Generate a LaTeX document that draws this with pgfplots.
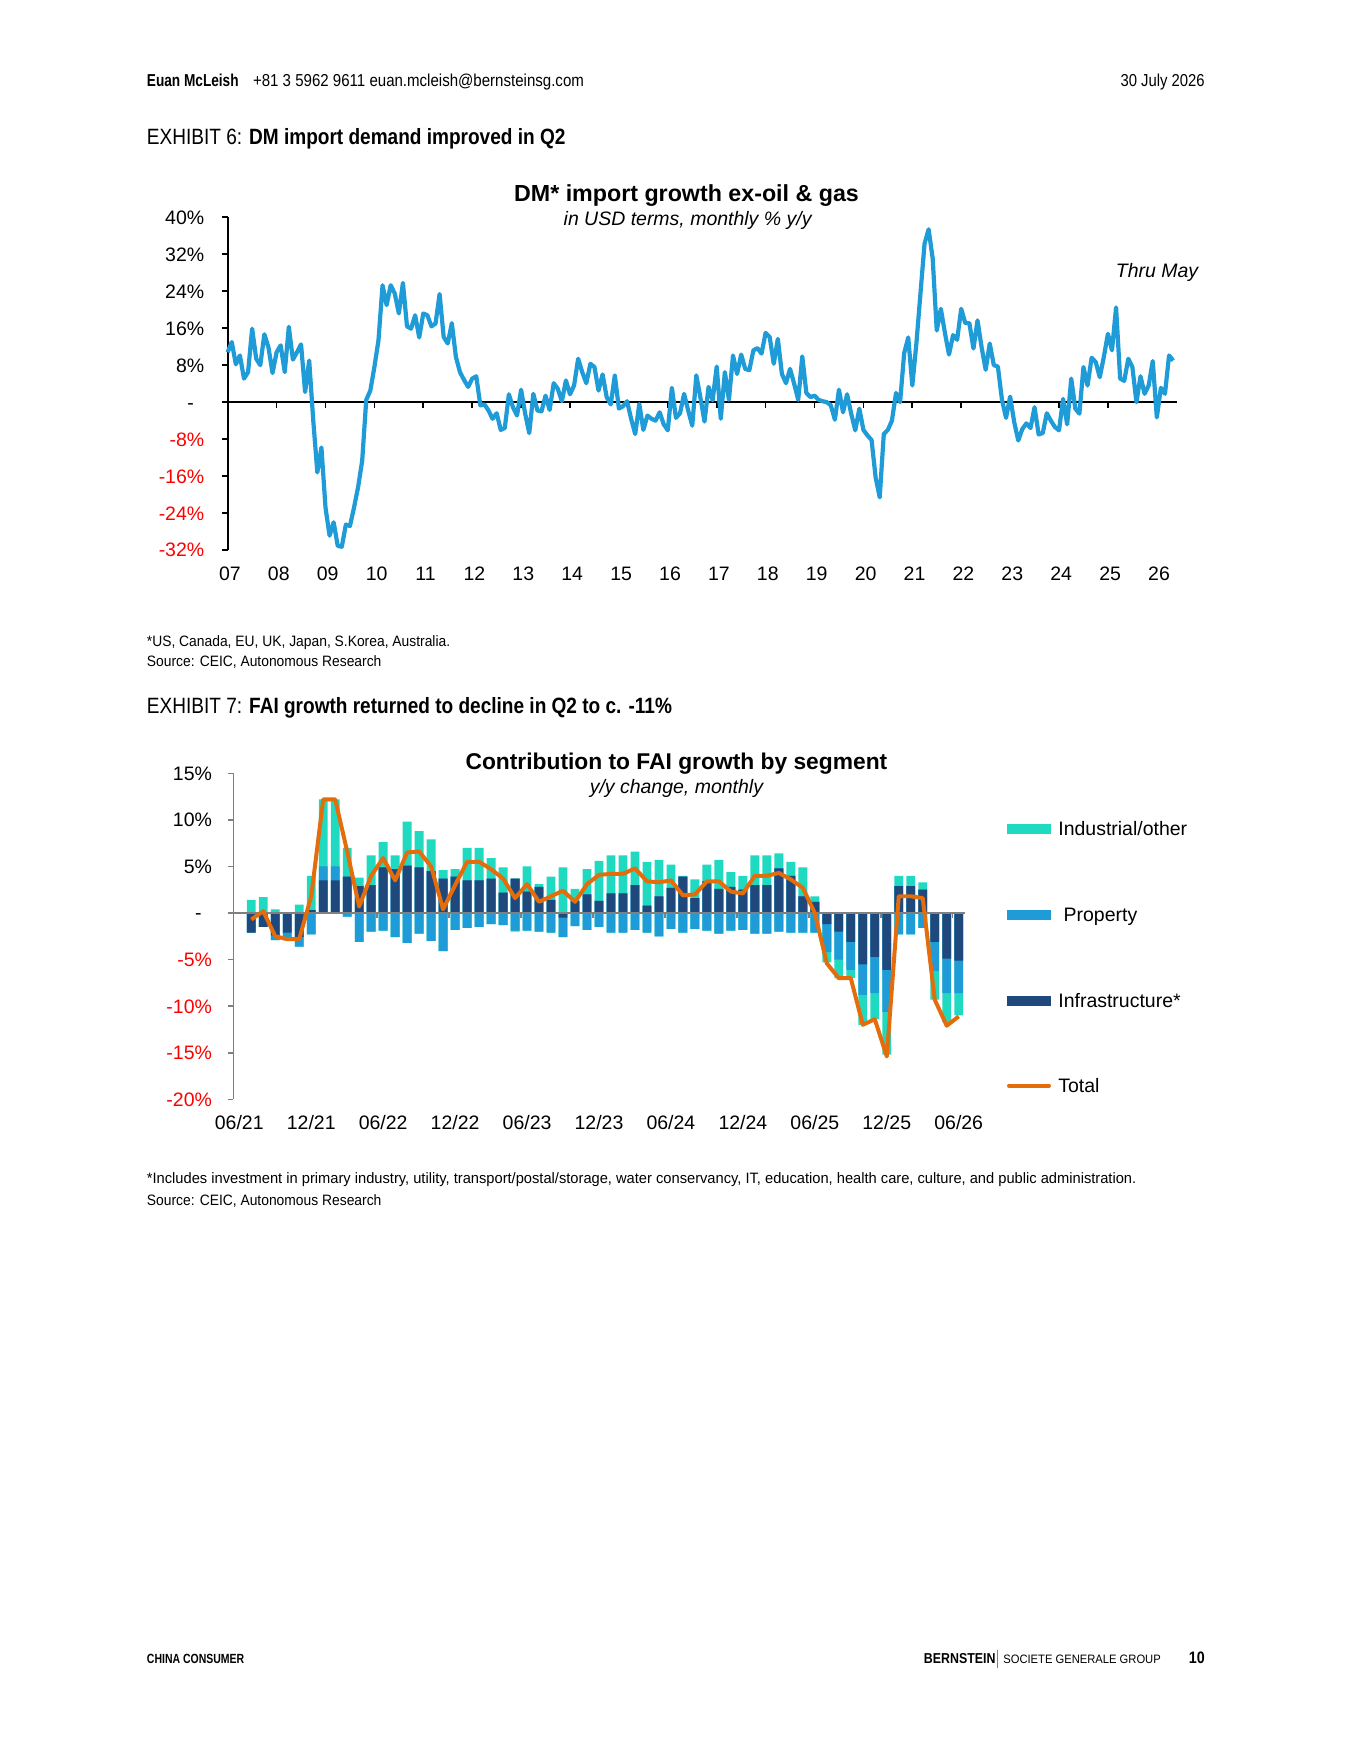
\documentclass[border=0pt]{standalone}
\usepackage{pgfplots}
\pgfplotsset{compat=1.18}
\usepackage{pgfplotstable}
\usepackage{fontspec}
\setmainfont{Liberation Sans}
\newfontfamily\cond[FakeStretch=0.86]{Liberation Sans}
\newfontfamily\condh[FakeStretch=0.872]{Liberation Sans}
\newfontfamily\condf[FakeStretch=0.79]{Liberation Sans}
\newfontfamily\condn[FakeStretch=0.92]{Liberation Sans}
\newfontfamily\condw[FakeStretch=0.975]{Liberation Sans}
\definecolor{dmblue}{RGB}{31,155,215}
\definecolor{cteal}{RGB}{31,217,193}
\definecolor{cprop}{RGB}{31,155,215}
\definecolor{cnavy}{RGB}{31,73,125}
\definecolor{corange}{RGB}{228,108,10}
\definecolor{agray}{RGB}{128,128,128}

\pgfplotstableread{
pos I P O T
1 -2.1 0 1.4 -0.7
2 -1.5 0 1.7 0.2
3 -2.4 -0.5 0.4 -2.5
4 -2.1 -0.8 0.1 -2.8
5 -2.6 -1.0 0.9 -2.8
6 0.3 -2.3 3.7 1.8
7 3.5 1.5 7.2 12.2
8 3.5 1.5 7.2 12.2
9 3.9 -0.4 3.1 6.6
10 2.9 -3.1 0.9 0.7
11 3.0 -2.0 3.2 4.0
12 4.9 -1.9 2.7 5.9
13 4.7 -2.6 1.5 3.5
14 5.1 -3.2 4.7 6.5
15 4.9 -2.2 3.9 6.6
16 4.5 -3.0 3.4 5.0
17 3.7 -4.1 0.9 0.4
18 3.9 -1.8 0.8 3.0
19 3.5 -1.6 3.5 5.5
20 3.5 -1.5 3.5 5.5
21 3.7 -1.2 2.2 4.7
22 2.2 -1.3 2.7 3.7
23 3.7 -1.9 -0.1 1.6
24 2.3 -1.9 2.7 3.1
25 2.8 -2.0 0.3 1.2
26 1.4 -2.1 2.5 1.8
27 -0.5 -2.1 4.9 2.4
28 1.3 -1.4 1.3 1.2
29 2.0 -1.8 2.7 3.1
30 1.3 -1.5 4.3 4.1
31 2.1 -2.1 4.1 4.2
32 2.1 -2.1 4.1 4.2
33 3.0 -1.8 3.6 4.8
34 0.8 -2.1 4.7 3.4
35 1.8 -2.5 3.9 3.3
36 2.7 -1.7 2.5 3.5
37 3.9 -2.1 0.1 1.9
38 1.6 -1.7 2.0 2.0
39 3.4 -1.9 1.8 3.4
40 2.6 -2.2 3.1 3.4
41 2.8 -1.9 1.6 2.3
42 2.5 -1.8 1.5 2.1
43 3.0 -2.2 3.2 4.0
44 3.0 -2.2 3.2 4.0
45 4.8 -2.0 1.6 4.3
46 4.0 -2.1 1.5 3.6
47 1.8 -2.1 3.1 2.7
48 1.2 -2.1 0.6 0.0
49 -1.2 -3.0 -1.1 -5.4
50 -2.0 -3.0 -2.0 -7.0
51 -3.1 -3.0 -0.9 -7.0
52 -5.5 -3.3 -3.2 -12.0
53 -4.7 -3.9 -2.8 -11.4
54 -6.1 -4.5 -4.6 -15.4
55 2.9 -2.3 1.1 1.8
56 2.9 -2.3 1.1 1.8
57 2.5 -1.6 0.8 1.6
58 -3.1 -3.1 -3.1 -9.3
59 -4.9 -3.7 -3.1 -12.1
60 -5.1 -3.5 -2.4 -11.1
}\fai

\begin{document}
\begin{tikzpicture}
\useasboundingbox (0,0) rectangle (611.7pt,-792pt);
\begin{scope}[x=0.4518pt,y=-0.4518pt]
% header
\node[anchor=base west,inner sep=0] at (146.5,86.7) {\condh\fontsize{7.8}{9}\selectfont{\condf\bfseries Euan McLeish}\hspace{6.5pt}+81 3 5962 9611 euan.mcleish@bernsteinsg.com};
\node[anchor=base east,inner sep=0] at (1205.2,86.7) {\cond\fontsize{7.8}{9}\selectfont 30 July 2026};
\node[anchor=base west,inner sep=0] at (146.5,144.3) {\cond\fontsize{10}{12}\selectfont EXHIBIT 6: \bfseries DM import demand improved in Q2};
% chart 1 titles
\node[anchor=base,inner sep=0] at (686.5,201.7) {\fontsize{10.5}{12}\selectfont\bfseries DM* import growth ex-oil \& gas};
\node[anchor=base,inner sep=0] at (687.6,225) {\fontsize{8.8}{10}\selectfont\itshape in USD terms, monthly \% y/y};
\node[anchor=base,inner sep=0] at (1157,277.6) {\fontsize{8.8}{10}\selectfont\itshape Thru May};
% footnotes 1
\node[anchor=base west,inner sep=0] at (146.5,646) {\condn\fontsize{6.8}{8}\selectfont *US, Canada, EU, UK, Japan, S.Korea, Australia.};
\node[anchor=base west,inner sep=0] at (146.5,666.1) {\condn\fontsize{6.8}{8}\selectfont Source: CEIC, Autonomous Research};
\node[anchor=base west,inner sep=0] at (146.5,713.4) {\cond\fontsize{10}{12}\selectfont EXHIBIT 7: \bfseries FAI growth returned to decline in Q2 to c. -11\%};
% chart 2 titles
\node[anchor=base,inner sep=0] at (676.4,769.6) {\fontsize{10.3}{12}\selectfont\bfseries Contribution to FAI growth by segment};
\node[anchor=base,inner sep=0] at (676.4,793) {\fontsize{8.8}{10}\selectfont\itshape y/y change, monthly};
% legend
\fill[cteal] (1007,823.5) rectangle (1051,833.5);
\node[anchor=base west,inner sep=0] at (1057.9,835.5) {\fontsize{8.8}{10}\selectfont Industrial/other};
\fill[cprop] (1007,909.5) rectangle (1051,919.5);
\node[anchor=base west,inner sep=0] at (1063.2,921.5) {\fontsize{8.8}{10}\selectfont Property};
\fill[cnavy] (1007,995.6) rectangle (1051,1005.6);
\node[anchor=base west,inner sep=0] at (1057.9,1007.6) {\fontsize{8.8}{10}\selectfont Infrastructure*};
\draw[corange,line width=1.8pt,line cap=round] (1009,1085.6) -- (1049,1085.6);
\node[anchor=base west,inner sep=0] at (1057.9,1092.6) {\fontsize{8.8}{10}\selectfont Total};
% footnotes 2
\node[anchor=base west,inner sep=0] at (146.5,1183.8) {\condw\fontsize{6.8}{8}\selectfont *Includes investment in primary industry, utility, transport/postal/storage, water conservancy, IT, education, health care, culture, and public administration.};
\node[anchor=base west,inner sep=0] at (146.5,1205) {\condn\fontsize{6.8}{8}\selectfont Source: CEIC, Autonomous Research};
% footer
\node[anchor=base west,inner sep=0] at (146.5,1663.5) {\condf\fontsize{6}{7}\selectfont\bfseries CHINA CONSUMER};
\node[anchor=base west,inner sep=0] at (923.5,1663.5) {\cond\fontsize{6.5}{7}\selectfont\bfseries BERNSTEIN};
\draw[agray,line width=0.4pt] (997.3,1650) -- (997.3,1668);
\node[anchor=base west,inner sep=0] at (1002.9,1663.5) {\condn\fontsize{5.5}{7}\selectfont SOCIETE GENERALE GROUP};
\node[anchor=base east,inner sep=0] at (1205.2,1663.5) {\cond\fontsize{7.5}{8}\selectfont\bfseries 10};
\end{scope}

% ---------------- chart 1 ----------------
\begin{axis}[
  at={(102.87pt,-248.49pt)}, anchor=south west, scale only axis,
  width=428.98pt, height=150.31pt,
  xmin=0, xmax=233, ymin=-32, ymax=40,
  axis y line*=left, axis x line*=bottom,
  axis line style={-},
  x axis line style={draw=none},
  y axis line style={line width=0.75pt},
  xtick={0,12,...,228},
  xticklabels={07,08,09,10,11,12,13,14,15,16,17,18,19,20,21,22,23,24,25,26},
  major x tick style={draw=none},
  ytick={-32,-24,...,40},
  yticklabels={\textcolor{red}{-32\%},\textcolor{red}{-24\%},\textcolor{red}{-16\%},\textcolor{red}{-8\%},-\hspace*{4.7pt},8\%,16\%,24\%,32\%,40\%},
  major y tick style={line width=0.75pt,black},
  tick align=outside, major tick length=2.4pt,
  tick label style={font=\fontsize{8.8}{10}\selectfont},
  yticklabel style={anchor=base east,inner sep=0pt,xshift=-8.0pt,yshift=-3.15pt},
  xticklabel style={anchor=base,inner sep=0pt,yshift=-11.25pt,xshift=1pt},
  clip=false,
]
\draw[line width=0.75pt] (axis cs:0,0) -- (axis cs:233,0);
\pgfplotsinvokeforeach{12,24,...,228}{\draw[line width=0.75pt] (axis cs:#1,0) -- ([yshift=-2.6pt]axis cs:#1,0);}
\addplot[dmblue,line width=1.9pt,line join=round] coordinates {
(0,10.8)(1,13.0)(2,8.2)(3,10.1)(4,5.1)(5,6.5)(6,15.9)(7,9.4)(8,8.0)(9,14.7)
(10,11.9)(11,6.3)(12,10.8)(13,12.3)(14,6.5)(15,16.3)(16,9.2)(17,10.8)(18,12.5)(19,2.2)
(20,9.0)(21,-4.0)(22,-15.2)(23,-9.8)(24,-22.8)(25,-28.9)(26,-26.0)(27,-31.1)(28,-31.3)(29,-26.5)
(30,-26.8)(31,-22.8)(32,-18.4)(33,-12.7)(34,0.5)(35,2.5)(36,7.6)(37,13.4)(38,25.3)(39,21.0)
(40,25.3)(41,23.5)(42,19.2)(43,25.8)(44,16.4)(45,15.9)(46,18.8)(47,14.0)(48,19.2)(49,18.8)
(50,16.4)(51,17.0)(52,23.4)(53,14.1)(54,12.7)(55,17.1)(56,9.8)(57,6.5)(58,4.8)(59,3.3)
(60,5.1)(61,5.6)(62,-0.7)(63,-0.5)(64,-1.8)(65,-3.6)(66,-2.4)(67,-6.0)(68,-5.6)(69,1.7)
(70,-1.1)(71,-2.9)(72,2.7)(73,-2.5)(74,-6.7)(75,1.8)(76,-1.8)(77,-2.0)(78,1.4)(79,-1.7)
(80,4.1)(81,2.9)(82,0.2)(83,4.7)(84,1.7)(85,3.6)(86,9.4)(87,6.5)(88,4.1)(89,8.3)
(90,7.6)(91,2.5)(92,6.0)(93,1.1)(94,-0.5)(95,5.8)(96,-1.4)(97,-0.9)(98,0.2)(99,-3.6)
(100,-6.9)(101,-0.4)(102,-6.0)(103,-2.9)(104,-3.6)(105,-4.0)(106,-2.2)(107,-4.8)(108,-6.1)(109,3.1)
(110,-3.4)(111,-2.4)(112,1.8)(113,-1.8)(114,-5.1)(115,5.8)(116,1.0)(117,-4.2)(118,3.3)(119,0.4)
(120,7.7)(121,-3.6)(122,6.5)(123,0.5)(124,10.1)(125,6.1)(126,10.3)(127,7.2)(128,6.9)(129,11.2)
(130,11.7)(131,10.5)(132,15.0)(133,14.1)(134,8.3)(135,13.7)(136,6.1)(137,4.1)(138,7.2)(139,4.0)
(140,0.5)(141,9.9)(142,2.0)(143,1.1)(144,1.4)(145,0.5)(146,0.2)(147,0.0)(148,-0.7)(149,-3.8)
(150,2.7)(151,-2.2)(152,1.7)(153,-2.5)(154,-6.1)(155,-1.4)(156,-6.0)(157,-7.2)(158,-8.2)(159,-16.3)
(160,-20.6)(161,-6.9)(162,-6.0)(163,-4.0)(164,2.0)(165,0.0)(166,10.6)(167,14.0)(168,3.6)(169,12.7)
(170,23.5)(171,34.3)(172,37.4)(173,31.1)(174,15.5)(175,20.2)(176,15.0)(177,10.3)(178,14.5)(179,13.5)
(180,20.2)(181,17.1)(182,17.1)(183,11.6)(184,17.7)(185,11.9)(186,7.0)(187,12.7)(188,8.0)(189,7.7)
(190,0.5)(191,-3.4)(192,1.2)(193,-4.3)(194,-8.3)(195,-5.8)(196,-4.6)(197,-5.6)(198,-1.1)(199,-7.0)
(200,-6.7)(201,-2.4)(202,-4.0)(203,-5.4)(204,-6.1)(205,0.7)(206,-4.8)(207,5.1)(208,-1.4)(209,-2.5)
(210,7.6)(211,3.6)(212,9.6)(213,8.7)(214,5.4)(215,9.8)(216,14.8)(217,11.2)(218,20.5)(219,5.1)
(220,4.6)(221,9.4)(222,7.6)(223,0.0)(224,5.6)(225,1.8)(226,3.6)(227,8.9)(228,-3.3)(229,3.1)
(230,1.8)(231,10.1)(232,9.0)
};
\end{axis}

% ---------------- chart 2 ----------------
\begin{axis}[
  at={(105.40pt,-496.66pt)}, anchor=south west, scale only axis,
  width=330.45pt, height=147.29pt,
  xmin=-0.5, xmax=60.5, ymin=-20, ymax=15,
  axis y line*=left, axis x line*=bottom,
  axis line style={-},
  x axis line style={draw=none},
  y axis line style={line width=0.7pt,agray},
  xtick={0,6,...,60},
  xticklabels={06/21,12/21,06/22,12/22,06/23,12/23,06/24,12/24,06/25,12/25,06/26},
  major x tick style={draw=none},
  ytick={-20,-15,...,15},
  yticklabels={\textcolor{red}{-20\%},\textcolor{red}{-15\%},\textcolor{red}{-10\%},\textcolor{red}{-5\%},-\hspace*{4.7pt},5\%,10\%,15\%},
  major y tick style={line width=0.7pt,agray},
  tick align=outside, major tick length=2.4pt,
  tick label style={font=\fontsize{8.8}{10}\selectfont},
  yticklabel style={anchor=base east,inner sep=0pt,xshift=-7.05pt,yshift=-3.15pt},
  xticklabel style={anchor=base,inner sep=0pt,yshift=-11.15pt},
  clip=false,
]
\addplot[ybar,bar width=0.74,bar shift=0pt,fill=cteal,draw=none] table[x=pos,y expr={max(\thisrow{I},0)+max(\thisrow{P},0)+max(\thisrow{O},0)}] {\fai};
\addplot[ybar,bar width=0.74,bar shift=0pt,fill=cprop,draw=none] table[x=pos,y expr={max(\thisrow{I},0)+max(\thisrow{P},0)}] {\fai};
\addplot[ybar,bar width=0.74,bar shift=0pt,fill=cnavy,draw=none] table[x=pos,y expr={max(\thisrow{I},0)}] {\fai};
\addplot[ybar,bar width=0.74,bar shift=0pt,fill=cteal,draw=none] table[x=pos,y expr={min(\thisrow{I},0)+min(\thisrow{P},0)+min(\thisrow{O},0)}] {\fai};
\addplot[ybar,bar width=0.74,bar shift=0pt,fill=cprop,draw=none] table[x=pos,y expr={min(\thisrow{I},0)+min(\thisrow{P},0)}] {\fai};
\addplot[ybar,bar width=0.74,bar shift=0pt,fill=cnavy,draw=none] table[x=pos,y expr={min(\thisrow{I},0)}] {\fai};
\draw[agray,line width=0.7pt] (axis cs:-0.5,0) -- (axis cs:60.5,0);
\pgfplotsinvokeforeach{5.5,11.5,...,59.5}{\draw[agray,line width=0.7pt] (axis cs:#1,0) -- ([yshift=-2.4pt]axis cs:#1,0);}
\addplot[corange,line width=1.8pt,line join=round] table[x=pos,y=T] {\fai};
\end{axis}
\end{tikzpicture}
\end{document}
